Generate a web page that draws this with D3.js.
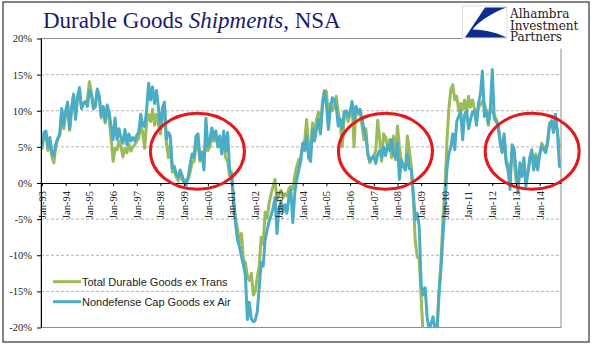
<!DOCTYPE html>
<html><head><meta charset="utf-8">
<script src="https://cdn.jsdelivr.net/npm/d3@7"></script>
<style>body{margin:0;background:#fff} svg{display:block}</style>
</head><body>
<svg id="c" width="596" height="358"></svg>
<script>
// Monthly year-over-year % change, Jan-1993 .. Nov-2014
const capGoods = [
 5.0, 7.0, 7.2, 5.0, 6.3, 4.2, 3.8, 5.4, 6.2, 6.8, 10.3, 8.0,
 10.0, 11.2, 7.5, 10.5, 12.3, 8.8, 12.0, 13.2, 10.3, 11.0, 11.3, 10.6,
 12.8, 12.3, 10.3, 10.5, 13.0, 12.0, 9.3, 10.6, 8.6, 10.8, 9.8, 7.8,
 6.0, 9.0, 6.0, 7.5, 6.2, 5.5, 7.4, 5.3, 6.8, 5.8, 6.3, 5.8,
 6.6, 7.0, 9.5, 8.0, 7.8, 10.2, 13.8, 11.5, 13.3, 11.0, 12.8, 10.3,
 7.5, 10.4, 11.2, 6.0, 7.0, 6.5, 2.0, 2.3, 1.2, 0.8, 1.8, 1.0,
 0.0, -0.3, 0.8, 2.5, 4.0, 3.6, 6.5, 6.8, 3.3, 4.3, 1.8, 9.0,
 5.0, 5.8, 7.6, 6.2, 7.2, 5.0, 6.5, 4.0, 7.2, 4.4, 7.0, 1.8,
 0.9, -2.5, -5.5, -7.9, -8.8, -10.2, -11.3, -12.8, -18.9, -16.5, -18.8, -19.2,
 -19.0, -17.8, -14.5, -11.0, -11.5, -7.9, -6.5, -5.3, -4.5, -3.5, -2.0, -7.0,
 -3.5, -2.5, -4.0, -3.0, -4.2, -2.0, -1.0, -5.5, -1.4, 0.5, 1.8, 3.0,
 5.5, 4.5, 6.5, 3.5, 3.0, 7.5, 5.8, 7.5, 8.8, 6.8, 10.6, 12.6,
 11.0, 7.4, 10.2, 11.8, 11.5, 10.5, 7.9, 8.8, 7.5, 9.8, 10.0, 9.2,
 9.8, 11.3, 8.8, 10.6, 9.8, 10.2, 9.0, 7.5, 6.4, 4.0, 3.0, 3.5,
 3.7, 2.7, 4.0, 4.5, 3.5, 5.0, 3.8, 5.2, 4.5, 6.0, 4.0, 3.5,
 5.5, 0.5, 3.2, 2.3, 1.8, 4.0, 2.0, 1.8, -1.4, -5.1, -4.2, -6.0,
 -14.0, -15.5, -14.5, -18.5, -20.3, -19.5, -18.5, -20.3, -20.5, -15.5, -12.0, -7.5,
 -3.5, 1.8, 4.0, 5.0, 6.8, 4.6, 8.5, 9.2, 10.0, 6.0, 9.5, 10.0,
 7.5, 8.8, 9.8, 10.0, 8.0, 11.0, 12.3, 15.5, 9.2, 10.0, 8.3, 10.2,
 15.7, 9.0, 8.5, 7.9, 5.5, 4.2, 6.8, 2.8, 1.8, -0.9, 5.3, 4.8,
 2.0, -1.4, 2.8, 0.9, 3.5, -0.5, 1.3, 3.5, 4.6, 1.8, 3.7, 1.8,
 4.0, 5.1, 4.6, 4.2, 5.5, 7.9, 8.6, 7.0, 9.5, 7.0, 2.3
];
const durableGoods = [
 4.8, 6.6, 6.8, 4.5, 5.8, 3.6, 2.8, 5.0, 6.0, 6.6, 9.8, 7.5,
 9.5, 10.5, 7.3, 10.0, 12.0, 9.5, 11.5, 12.5, 10.5, 11.0, 11.0, 11.5,
 14.0, 12.5, 11.0, 10.8, 12.8, 12.0, 9.0, 10.3, 8.3, 10.0, 9.0, 6.0,
 3.0, 4.8, 4.6, 5.8, 5.0, 3.6, 4.8, 4.2, 5.4, 4.4, 5.0, 5.3,
 5.8, 6.2, 8.0, 7.0, 4.8, 8.5, 9.5, 8.5, 10.2, 8.0, 9.5, 8.0,
 6.8, 9.5, 10.5, 5.5, 3.5, 5.5, 1.5, 1.8, 0.8, 0.3, 1.2, 0.5,
 0.2, 0.5, 0.5, 1.5, 2.8, 3.0, 5.0, 5.5, 3.0, 4.0, 2.8, 6.0,
 4.5, 5.0, 6.5, 5.8, 6.5, 5.5, 6.0, 4.5, 5.5, 3.5, 3.0, 1.0,
 1.5, -2.0, -5.0, -6.3, -8.3, -7.0, -10.6, -11.0, -13.0, -13.5, -12.5, -15.5,
 -15.0, -13.0, -11.5, -7.5, -8.5, -4.0, -4.8, -2.8, -1.5, -0.5, 0.5, -2.5,
 -1.5, -1.0, -2.0, -1.5, -1.8, -0.8, -0.5, -0.8, 1.0, 2.3, 3.2, 3.5,
 5.0, 5.8, 8.8, 5.0, 4.5, 8.3, 6.5, 8.8, 9.8, 7.0, 11.3, 12.8,
 12.7, 9.5, 11.0, 10.0, 10.5, 12.0, 9.8, 8.5, 5.0, 9.0, 9.5, 8.5,
 9.5, 11.0, 5.0, 10.5, 9.5, 10.0, 8.0, 6.0, 7.5, 4.0, 2.8, 3.5,
 3.7, 4.5, 8.7, 6.0, 3.0, 6.8, 6.3, 5.0, 6.0, 3.5, 6.5, 3.2,
 7.9, 5.0, 2.8, 2.3, 1.8, 6.5, 4.5, 2.3, -2.0, -8.0, -10.2, -10.5,
 -16.0, -21.0, -23.0, -24.0, -24.0, -23.0, -22.0, -22.0, -20.5, -15.0, -11.0, -5.0,
 -1.0, 5.5, 10.2, 12.9, 13.6, 11.5, 12.0, 10.0, 11.0, 10.2, 11.5, 9.5,
 12.0, 10.5, 11.5, 10.2, 8.5, 10.5, 10.8, 11.3, 11.0, 10.0, 8.0, 10.2,
 10.0, 9.3, 8.8, 7.9, 6.0, 5.5, 6.5, 3.2, 2.5, 1.5, 4.0, 3.2,
 0.5, -0.5, 1.5, 1.3, 3.0, 0.5, 1.5, 3.0, 4.2, 2.5, 4.0, 2.8,
 4.0, 5.5, 5.0, 4.5, 5.8, 8.3, 8.2, 7.5, 8.8, 7.0, 5.0
];
const yTickValues = [-20, -15, -10, -5, 0, 5, 10, 15, 20];
const yTickLabels = ["-20%", "-15%", "-10%", "-5%", "0%", "5%", "10%", "15%", "20%"];
const xTickLabels = ["Jan-93","Jan-94","Jan-95","Jan-96","Jan-97","Jan-98","Jan-99","Jan-00","Jan-01","Jan-02","Jan-03","Jan-04","Jan-05","Jan-06","Jan-07","Jan-08","Jan-09","Jan-10","Jan-11","Jan-12","Jan-13","Jan-14"];
const seriesNames = ["Total Durable Goods ex Trans", "Nondefense Cap Goods ex Air"];
const seriesColors = ["#9bbb59", "#4bacc6"];
// highlight ellipses in data units (month index, % value)
const highlightMonths = [78.7, 173.9, 248.2];
const highlightValues = [4.4, 4.4, 4.4];
const highlightRxMonths = 23.8, highlightRyPct = 5.26;
const logoLines = ["Alhambra", "Investment", "Partners"];

const svg = d3.select("#c");
const L = 41, R = 561, T = 38.5, B = 327.5;
const x = d3.scaleLinear().domain([-0.5, 262.8]).range([L, R]);
const y = d3.scaleLinear().domain([-20, 20]).range([B, T]);
const serif = "'Liberation Serif','Times New Roman',serif";
const sans = "'Liberation Sans',Arial,sans-serif";

// outer frame
svg.append("rect").attr("x", 3).attr("y", 2).attr("width", 586).attr("height", 340)
  .attr("fill", "none").attr("stroke", "#333").attr("stroke-width", 1.2);

// title
const title = svg.append("text").attr("x", 43).attr("y", 28)
  .attr("font-family", serif).attr("font-size", 23).attr("fill", "#1b1b6e");
title.append("tspan").text("Durable Goods ");
title.append("tspan").attr("font-style", "italic").text("Shipments");
title.append("tspan").text(", NSA");

// gridlines
svg.append("g").selectAll("line").data(yTickValues.filter(v => v !== 0 && v !== 20 && v !== -20))
  .join("line").attr("x1", L).attr("x2", R).attr("y1", d => y(d)).attr("y2", d => y(d))
  .attr("stroke", "#b3b3b3").attr("stroke-width", 1).attr("stroke-dasharray", "3,2");

// plot border
svg.append("rect").attr("x", L).attr("y", T).attr("width", R - L).attr("height", B - T)
  .attr("fill", "none").attr("stroke", "#8c8c8c").attr("stroke-width", 1);

// clip
svg.append("clipPath").attr("id", "pc").append("rect")
  .attr("x", L).attr("y", T).attr("width", R - L).attr("height", B - T);

// series
const line = d3.line().x((d, i) => x(i)).y(d => y(d)).curve(d3.curveLinear);
const gLines = svg.append("g").attr("clip-path", "url(#pc)");
[durableGoods, capGoods].forEach((s, k) => {
  gLines.append("path").datum(s).attr("d", line).attr("fill", "none")
    .attr("stroke", seriesColors[k]).attr("stroke-width", 3)
    .attr("stroke-linejoin", "round").attr("stroke-linecap", "round");
});

// y axis
const yAxis = d3.axisLeft(y).tickValues(yTickValues)
  .tickFormat((d, i) => yTickLabels[i]).tickSize(4).tickSizeOuter(0).tickPadding(5);
const gy = svg.append("g").attr("transform", `translate(${L},0)`).call(yAxis);
gy.select(".domain").attr("stroke", "#000");
gy.selectAll(".tick line").attr("stroke", "#000");
gy.selectAll("text").attr("font-family", serif).attr("font-size", 10.5).attr("fill", "#222");

// x axis at 0
const xAxis = d3.axisBottom(x).tickValues(d3.range(0, 253, 12))
  .tickFormat((d, i) => xTickLabels[i]).tickSize(3).tickSizeOuter(0);
const gx = svg.append("g").attr("transform", `translate(0,${y(0)})`).call(xAxis);
gx.select(".domain").attr("stroke", "#000").attr("stroke-width", 1.2);
gx.selectAll(".tick line").attr("stroke", "#000");
gx.selectAll("text").attr("font-family", serif).attr("font-size", 10.5).attr("fill", "#222")
  .attr("transform", "rotate(-90)").attr("x", -8).attr("y", 0).attr("dy", "0.32em")
  .attr("text-anchor", "end");

// highlight ellipses
svg.append("g").selectAll("ellipse").data(highlightMonths).join("ellipse")
  .attr("cx", d => x(d)).attr("cy", (d, i) => y(highlightValues[i]))
  .attr("rx", x(highlightRxMonths) - x(0)).attr("ry", y(0) - y(highlightRyPct))
  .attr("fill", "none").attr("stroke", "#e3191c").attr("stroke-width", 3);

// legend
const lg = svg.append("g");
seriesNames.forEach((n, k) => {
  const ly = 281.7 + k * 20;
  lg.append("line").attr("x1", 53).attr("x2", 81).attr("y1", ly).attr("y2", ly)
    .attr("stroke", seriesColors[k]).attr("stroke-width", 3);
  lg.append("text").attr("x", 82).attr("y", ly + 4).attr("font-family", sans)
    .attr("font-size", 11).attr("fill", "#222").text(n);
});

// logo
svg.append("rect").attr("x", 462).attr("y", 3.5).attr("width", 126).attr("height", 45).attr("fill", "#fff");
svg.append("rect").attr("x", 462.5).attr("y", 6).attr("width", 44.5).attr("height", 32)
  .attr("fill", "#fff").attr("stroke", "#d8d8d8").attr("stroke-width", 0.8);
svg.append("path")
  .attr("d", "M485,7.5 L506.5,7.5 C494,12 480,20 472.5,29.5 C486,30 498,33 506.5,37.5 L465,37.5 Z")
  .attr("fill", "#0c2c8e");
const logoText = svg.append("text").attr("x", 510).attr("y", 18)
  .attr("font-family", "'DejaVu Serif',serif").attr("font-size", 12).attr("fill", "#1a1a1a");
logoLines.forEach((d, i) => {
  logoText.append("tspan").attr("x", 510).attr("dy", i === 0 ? 0 : 11.6).text(d);
});
</script>
</body></html>
